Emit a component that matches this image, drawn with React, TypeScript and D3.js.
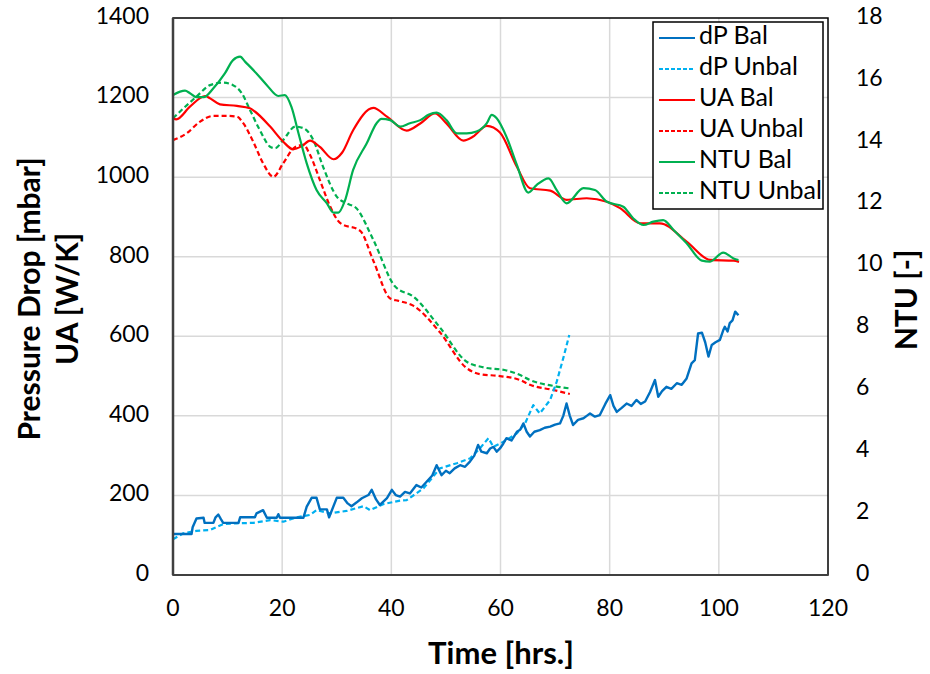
import React from "react";
import * as d3 from "d3";

// ---------- data ----------
const xTicks = [0, 20, 40, 60, 80, 100, 120];
const leftTicks = [0, 200, 400, 600, 800, 1000, 1200, 1400];
const rightTicks = [0, 2, 4, 6, 8, 10, 12, 14, 16, 18];

const dpBalT = [0, 3.4, 3.6, 4.3, 5.6, 5.8, 7.4, 7.8, 8.3, 8.8, 9.2, 12.0, 12.3, 15.0, 15.3, 16.5, 17.2, 19.0, 19.3, 19.6, 23.9, 24.5, 25.4, 26.3, 26.9, 28.2, 28.6, 30.0, 31.2, 32.0, 32.7, 33.6, 34.6, 35.8, 36.4, 37.2, 37.9, 39.2, 40.1, 40.8, 41.6, 42.5, 43.4, 44.6, 45.5, 46.5, 47.5, 48.3, 49.2, 50.0, 50.7, 51.6, 52.6, 53.5, 54.4, 55.2, 55.9, 56.5, 57.5, 58.1, 58.7, 59.3, 59.9, 60.5, 61.1, 62.0, 63.0, 63.6, 64.2, 64.8, 65.4, 66.2, 67.2, 68.1, 69.1, 70.0, 70.9, 71.5, 72.1, 72.7, 73.3, 74.2, 75.2, 75.8, 76.4, 77.3, 78.2, 79.2, 80.1, 80.7, 81.3, 82.2, 83.1, 84.0, 84.9, 85.7, 86.5, 87.4, 88.3, 88.9, 89.6, 90.4, 91.3, 92.3, 93.2, 94.1, 95.0, 95.6, 96.2, 96.9, 97.5, 98.1, 98.7, 99.4, 100.2, 100.8, 101.1, 101.6, 102.0, 102.5, 103.0, 103.6];
const dpBalV = [103, 103, 120, 142, 144, 131, 131, 145, 152, 140, 131, 131, 145, 145, 155, 163, 144, 144, 153, 144, 144, 172, 194, 194, 165, 165, 145, 194, 194, 180, 173, 182, 193, 201, 214, 190, 176, 193, 214, 201, 197, 209, 205, 226, 220, 235, 250, 276, 251, 262, 256, 268, 276, 272, 285, 300, 327, 310, 306, 318, 322, 310, 318, 330, 344, 338, 360, 365, 381, 360, 348, 360, 364, 370, 373, 378, 381, 400, 431, 400, 377, 390, 394, 400, 406, 398, 402, 430, 452, 425, 410, 420, 431, 425, 440, 430, 436, 460, 490, 448, 462, 473, 468, 482, 478, 494, 532, 540, 607, 609, 585, 549, 578, 585, 591, 615, 624, 612, 633, 640, 662, 653];

const dpUnbalT = [0, 1.9, 4.3, 6.8, 9.2, 11.7, 14.7, 17.8, 20.2, 22.7, 25.1, 26.3, 28.8, 31.8, 34.9, 36.1, 38.5, 41.6, 42.8, 45.9, 48.9, 52.0, 54.4, 56.2, 57.8, 58.7, 61.1, 63.0, 64.5, 66.0, 67.2, 69.1, 70.3, 71.5, 72.6];
const dpUnbalV = [90, 105, 111, 113, 128, 130, 131, 138, 134, 145, 151, 163, 155, 161, 173, 163, 178, 187, 188, 218, 268, 281, 293, 318, 344, 322, 339, 356, 381, 427, 406, 440, 486, 545, 603];

const uaBalT = [0, 0.6, 3.1, 5.9, 6.8, 8.6, 11.7, 14.1, 15.0, 17.8, 20.2, 22.0, 23.6, 25.1, 26.9, 29.4, 31.0, 33.0, 36.7, 39.2, 42.8, 45.3, 48.0, 50.1, 53.2, 55.0, 57.5, 59.9, 63.0, 65.4, 69.1, 72.1, 75.8, 79.5, 81.9, 85.6, 89.2, 94.1, 98.4, 102.7, 103.7];
const uaBalV = [1148, 1145, 1177, 1204, 1198, 1183, 1179, 1173, 1165, 1127, 1089, 1070, 1078, 1092, 1076, 1045, 1062, 1118, 1174, 1152, 1117, 1135, 1160, 1135, 1092, 1102, 1129, 1112, 1026, 972, 966, 943, 947, 938, 922, 884, 884, 838, 792, 790, 787];

const uaUnbalT = [0, 2.5, 4.9, 7.4, 9.8, 11.7, 12.9, 14.7, 16.5, 18.4, 20.2, 22.4, 23.9, 25.1, 26.9, 28.8, 30.6, 34.3, 36.7, 39.8, 41.3, 44.0, 48.9, 53.8, 56.2, 59.9, 63.6, 65.4, 69.7, 72.7];
const uaUnbalV = [1093, 1110, 1139, 1154, 1154, 1152, 1135, 1089, 1035, 1001, 1035, 1076, 1081, 1056, 993, 926, 885, 865, 790, 695, 689, 677, 610, 520, 505, 500, 490, 478, 465, 455];

const ntuBalT = [0, 1.3, 2.2, 3.1, 4.3, 5.6, 7.4, 9.5, 11.0, 12.3, 13.2, 15.3, 17.2, 19.3, 20.5, 21.7, 23.0, 24.5, 26.3, 28.2, 29.4, 30.3, 31.5, 33.0, 35.5, 37.3, 38.2, 39.8, 41.6, 43.4, 45.3, 46.8, 48.3, 50.1, 52.0, 53.8, 55.6, 57.5, 58.4, 59.3, 61.1, 63.0, 65.1, 66.6, 68.8, 70.3, 72.1, 75.2, 77.3, 79.5, 82.5, 84.3, 86.2, 88.0, 89.8, 91.7, 94.1, 96.9, 98.4, 100.8, 102.7, 103.6];
const ntuBalV = [15.51, 15.62, 15.65, 15.57, 15.44, 15.44, 15.73, 16.21, 16.64, 16.75, 16.59, 16.21, 15.83, 15.48, 15.51, 15.13, 14.27, 13.30, 12.44, 12.01, 11.71, 11.71, 12.1, 13.09, 13.95, 14.60, 14.74, 14.70, 14.49, 14.60, 14.70, 14.87, 14.94, 14.70, 14.27, 14.27, 14.33, 14.60, 14.87, 14.76, 14.16, 13.25, 12.36, 12.60, 12.82, 12.44, 12.01, 12.50, 12.44, 12.06, 11.90, 11.53, 11.31, 11.42, 11.47, 11.15, 10.72, 10.16, 10.13, 10.42, 10.23, 10.18];

const ntuUnbalT = [0, 1.9, 4.3, 6.8, 9.2, 11.0, 12.6, 14.1, 15.9, 17.8, 18.7, 20.2, 22.4, 23.9, 25.7, 27.5, 30.0, 31.8, 33.6, 36.7, 40.7, 44.0, 48.9, 53.8, 56.9, 61.1, 63.6, 65.4, 69.7, 72.7];
const ntuUnbalV = [14.76, 15.08, 15.46, 15.83, 15.91, 15.83, 15.57, 15.03, 14.38, 13.84, 13.79, 14.06, 14.49, 14.44, 14.06, 13.19, 12.23, 12.01, 11.85, 10.83, 9.32, 9.00, 8.00, 6.89, 6.71, 6.61, 6.46, 6.30, 6.11, 6.03];

const legendLabels = ["dP Bal", "dP Unbal", "UA Bal", "UA Unbal", "NTU Bal", "NTU Unbal"];

// ---------- layout ----------
const W = 930, H = 674;
const PL = 173, PR = 828, PT = 18, PB = 575;
const FONT = "Lato, 'Open Sans', sans-serif";

const BLUE = "#0070C0", LBLUE = "#00B0F0", RED = "#FF0000", GREEN = "#00B050";

export default function App() {
  const x = d3.scaleLinear().domain([0, 120]).range([PL, PR]);
  const yL = d3.scaleLinear().domain([0, 1400]).range([PB, PT]);
  const yR = d3.scaleLinear().domain([0, 18]).range([PB, PT]);

  const mk = (ts: number[], vs: number[], y: d3.ScaleLinear<number, number>, smooth: boolean) => {
    const g = d3.line<number>().x((_, i) => x(ts[i])).y((v) => y(v));
    if (smooth) g.curve(d3.curveMonotoneX);
    return g(vs) || "";
  };

  const series = [
    { d: mk(dpBalT, dpBalV, yL, false), c: BLUE, dash: "", w: 2.4 },
    { d: mk(dpUnbalT, dpUnbalV, yL, false), c: LBLUE, dash: "5,3", w: 2.2 },
    { d: mk(uaBalT, uaBalV, yL, true), c: RED, dash: "", w: 2.2 },
    { d: mk(uaUnbalT, uaUnbalV, yL, true), c: RED, dash: "5,3", w: 2.2 },
    { d: mk(ntuBalT, ntuBalV, yR, true), c: GREEN, dash: "", w: 2.2 },
    { d: mk(ntuUnbalT, ntuUnbalV, yR, true), c: GREEN, dash: "5,3", w: 2.2 },
  ];
  const drawOrder = [5, 3, 1, 0, 2, 4];

  return (
    <svg width={W} height={H} style={{ position: "absolute", left: 0, top: 0, background: "#fff" }} fontFamily={FONT}>
      <rect x={0} y={0} width={W} height={H} fill="#fff" />
      {/* grid */}
      {xTicks.slice(1, -1).map((t) => (
        <line key={"gx" + t} x1={x(t)} x2={x(t)} y1={PT} y2={PB} stroke="#D9D9D9" strokeWidth={1.5} />
      ))}
      {leftTicks.slice(1, -1).map((t) => (
        <line key={"gy" + t} x1={PL} x2={PR} y1={yL(t)} y2={yL(t)} stroke="#D9D9D9" strokeWidth={1.5} />
      ))}
      {/* series */}
      {drawOrder.map((i) => (
        <path key={"s" + i} d={series[i].d} fill="none" stroke={series[i].c} strokeWidth={series[i].w}
          strokeDasharray={series[i].dash || undefined} strokeLinejoin="round" />
      ))}
      {/* frame */}
      <rect x={PL} y={PT} width={PR - PL} height={PB - PT} fill="none" stroke="#000" strokeWidth={1.5} />
      <line x1={PL} x2={PL} y1={PT} y2={PB} stroke="#404040" strokeWidth={2.5} />
      <line x1={PL} x2={PR} y1={PB} y2={PB} stroke="#404040" strokeWidth={2} />
      {/* tick labels */}
      {leftTicks.map((t) => (
        <text key={"lt" + t} x={149} y={yL(t)} textAnchor="end" dominantBaseline="middle" fontSize={23} fill="#000">{t}</text>
      ))}
      {rightTicks.map((t) => (
        <text key={"rt" + t} x={856} y={yR(t)} textAnchor="start" dominantBaseline="middle" fontSize={23} fill="#000">{t}</text>
      ))}
      {xTicks.map((t) => (
        <text key={"xt" + t} x={x(t)} y={610} textAnchor="middle" dominantBaseline="middle" fontSize={23} fill="#000">{t}</text>
      ))}
      {/* axis titles */}
      <text x={501} y={656} textAnchor="middle" dominantBaseline="middle" fontSize={31} fontWeight="bold">Time [hrs.]</text>
      <text transform="translate(32,299) rotate(-90)" textAnchor="middle" dominantBaseline="middle" fontSize={30} fontWeight="bold">Pressure Drop [mbar]</text>
      <text transform="translate(70,299) rotate(-90)" textAnchor="middle" dominantBaseline="middle" fontSize={30} fontWeight="bold">UA [W/K]</text>
      <text transform="translate(909,300) rotate(-90)" textAnchor="middle" dominantBaseline="middle" fontSize={30} fontWeight="bold">NTU [-]</text>
      {/* legend */}
      <rect x={653} y={22} width={170} height={187} fill="#fff" stroke="#000" strokeWidth={1.5} />
      {legendLabels.map((lab, i) => {
        const yy = 38 + i * 31;
        return (
          <g key={"lg" + i}>
            <line x1={659} x2={695} y1={yy} y2={yy} stroke={series[i].c} strokeWidth={2.2}
              strokeDasharray={series[i].dash ? "4,2" : undefined} />
            <text x={699} y={yy} dominantBaseline="middle" fontSize={25} fill="#000">{lab}</text>
          </g>
        );
      })}
    </svg>
  );
}
